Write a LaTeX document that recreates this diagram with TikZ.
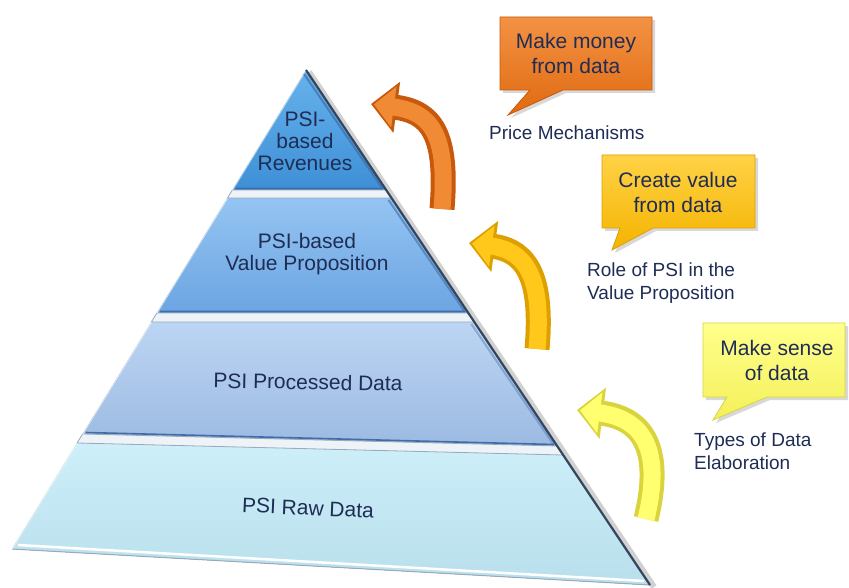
\documentclass[tikz,border=0pt]{standalone}
\usepackage{fontspec}
\setmainfont{Liberation Sans}
\usetikzlibrary{calc,arrows.meta,shadows}

\definecolor{ink}{HTML}{1F2D55}
\definecolor{revTop}{HTML}{66B2EC}
\definecolor{revBot}{HTML}{3E8FD6}
\definecolor{vpTop}{HTML}{94C4F2}
\definecolor{vpBot}{HTML}{6CA5E2}
\definecolor{procTop}{HTML}{BCD5F3}
\definecolor{procBot}{HTML}{9CBAE2}
\definecolor{rawTop}{HTML}{CDEFF9}
\definecolor{rawBot}{HTML}{B8DFEC}
\definecolor{tierLine}{HTML}{3F6DA8}
\definecolor{bandFill}{HTML}{EEF3F8}
\definecolor{bandLine}{HTML}{9AA9BB}
\definecolor{pyrEdge}{HTML}{34465E}
\definecolor{orLight}{HTML}{F08A34}
\definecolor{orDark}{HTML}{C8580C}
\definecolor{orBoxTop}{HTML}{F39244}
\definecolor{orBoxBot}{HTML}{E06A10}
\definecolor{goLight}{HTML}{FFC81A}
\definecolor{goDark}{HTML}{DDA000}
\definecolor{goBoxTop}{HTML}{FFD246}
\definecolor{goBoxBot}{HTML}{F4B400}
\definecolor{yeLight}{HTML}{FFFF70}
\definecolor{yeDark}{HTML}{D9D43E}
\definecolor{yeBoxTop}{HTML}{FFFF8C}
\definecolor{yeBoxBot}{HTML}{F4F05A}

\tikzset{
  tierbase/.style={draw=tierLine, line width=1.6pt},
  sepband/.style={fill=bandFill, draw=bandLine, line width=0.8pt},
  tiertext/.style={text=ink, font=\fontsize{21}{22}\selectfont, align=center, inner sep=0pt},
  calltext/.style={text=ink, font=\fontsize{21}{25}\selectfont, align=center, inner sep=0pt},
  notetext/.style={text=ink, font=\fontsize{19}{23}\selectfont, align=left, anchor=west, inner sep=0pt},
  callout/.style={line width=0.8pt, drop shadow={shadow xshift=3pt, shadow yshift=-3pt, opacity=0.3}},
  bentouter/.style={line width=25pt, line cap=butt, -{Triangle[width=50pt,length=26pt]}},
  bentinner/.style={line width=17pt, line cap=butt, shorten >=3pt, -{Triangle[width=40pt,length=20pt]}}
}

\begin{document}
\begin{tikzpicture}[x=1pt,y=-1pt]
\useasboundingbox (0,0) rectangle (849,588);
\fill[white] (0,0) rectangle (849,588);

% ---------- pyramid outline points ----------
\coordinate (apex) at (306,70);
\coordinate (bl) at (12,549);
\coordinate (br) at (650,585);

\coordinate (l1) at ($(apex)!0.2505!(bl)$);
\coordinate (l2) at ($(apex)!0.2672!(bl)$);
\coordinate (l3) at ($(apex)!0.5073!(bl)$);
\coordinate (l4) at ($(apex)!0.5261!(bl)$);
\coordinate (l5) at ($(apex)!0.7599!(bl)$);
\coordinate (l6) at ($(apex)!0.7787!(bl)$);

\coordinate (r1) at ($(apex)!0.2330!(br)$);
\coordinate (r2) at ($(apex)!0.2485!(br)$);
\coordinate (r3) at ($(apex)!0.4718!(br)$);
\coordinate (r4) at ($(apex)!0.4893!(br)$);
\coordinate (r5) at ($(apex)!0.7301!(br)$);
\coordinate (r6) at ($(apex)!0.7476!(br)$);

% soft shadow along the right flank
\draw[black, opacity=0.18, line width=6pt] ($(apex)+(3,2)$) -- ($(br)+(4,2)$);

% ---------- tiers ----------
\fill[top color=revTop, bottom color=revBot] (apex) -- (r1) -- (l1) -- cycle;
\fill[top color=vpTop, bottom color=vpBot] (l2) -- (r2) -- (r3) -- (l3) -- cycle;
\fill[top color=procTop, bottom color=procBot] (l4) -- (r4) -- (r5) -- (l5) -- cycle;
\fill[top color=rawTop, bottom color=rawBot] (l6) -- (r6) -- (br) -- (bl) -- cycle;

% separator bands between the tiers
\path[sepband] (l1) -- (r1) -- (r2) -- (l2) -- cycle;
\path[sepband] (l3) -- (r3) -- (r4) -- (l4) -- cycle;
\path[sepband] (l5) -- (r5) -- (r6) -- (l6) -- cycle;

% darker lower rims of the tiers
\draw[tierbase] ($(l1)+(3,-1.5)$) -- ($(r1)+(-3,-1.5)$);
\draw[tierbase] ($(l3)+(3,-1.5)$) -- ($(r3)+(-3,-1.5)$);
\draw[tierbase] ($(l5)+(3,-1.5)$) -- ($(r5)+(-3,-1.5)$);

% light rim at the base
\draw[white, line width=2.5pt] ($(bl)+(6,-4)$) -- ($(br)+(-6,-4)$);
\draw[bandLine, line width=1pt] (bl) -- (br);

% bevelled flanks
\draw[white, opacity=0.6, line width=1.5pt] (apex) -- (l1);
\draw[white, opacity=0.6, line width=1.5pt] (l2) -- (l3);
\draw[white, opacity=0.6, line width=1.5pt] (l4) -- (l5);
\draw[white, opacity=0.6, line width=1.5pt] (l6) -- (bl);
\draw[pyrEdge, line width=2.2pt] (apex) -- (br);
\draw[tierLine, opacity=0.7, line width=2pt] ($(apex)+(-2,4)$) -- ($(r1)+(-4,-2)$);
\draw[tierLine, opacity=0.6, line width=2pt] ($(r2)+(-3,2)$) -- ($(r3)+(-4,-2)$);
\draw[tierLine, opacity=0.4, line width=2pt] ($(r4)+(-3,2)$) -- ($(r5)+(-4,-2)$);

% ---------- tier labels ----------
\node[tiertext] (rev) at (305,141) {PSI-\\based\\Revenues};
\node[tiertext] (vp) at (307,254) {PSI-based\\Value Proposition};
\node[tiertext, rotate=-1] (proc) at (308,382) {PSI Processed Data};
\node[tiertext, rotate=-2.5] (raw) at (308,508) {PSI Raw Data};

% ---------- bent arrows ----------
\coordinate (oTail) at (442,209);
\coordinate (oTip) at (371,104);
\draw[orDark, bentouter] (oTail) .. controls (448,135) and (432,112) .. (oTip);
\draw[orLight, bentinner] (oTail) .. controls (448,135) and (432,112) .. (oTip);

\coordinate (gTail) at (537,349);
\coordinate (gTip) at (469,243);
\draw[goDark, bentouter] (gTail) .. controls (543,280) and (528,251) .. (gTip);
\draw[goLight, bentinner] (gTail) .. controls (543,280) and (528,251) .. (gTip);

\coordinate (yTail) at (646,519);
\coordinate (yTip) at (577,410);
\draw[yeDark, bentouter] (yTail) .. controls (664,445) and (640,418) .. (yTip);
\draw[yeLight, bentinner] (yTail) .. controls (664,445) and (640,418) .. (yTip);

% ---------- callouts ----------
\path[callout, draw=orDark, top color=orBoxTop, bottom color=orBoxBot]
  (500,17) -- (652,17) -- (652,90) -- (563,90) -- (508,115) -- (530,90) -- (500,90) -- cycle;
\node[calltext] (money) at (576,53) {Make money\\from data};

\path[callout, draw=goDark, top color=goBoxTop, bottom color=goBoxBot]
  (602,155) -- (755,155) -- (755,228) -- (653,228) -- (612,250) -- (620,228) -- (602,228) -- cycle;
\node[calltext] (value) at (678,192) {Create value\\from data};

\path[callout, draw=yeDark, top color=yeBoxTop, bottom color=yeBoxBot]
  (703,323) -- (845,323) -- (845,397) -- (767,397) -- (713,420) -- (727,397) -- (703,397) -- cycle;
\node[calltext] (sense) at (777,360) {Make sense\\of data};

% ---------- side notes ----------
\node[notetext] (price) at (489,133) {Price Mechanisms};
\node[notetext] (role) at (587,283) {Role of PSI in the\\Value Proposition};
\node[notetext] (types) at (694,451) {Types of Data\\Elaboration};
\end{tikzpicture}
\end{document}
